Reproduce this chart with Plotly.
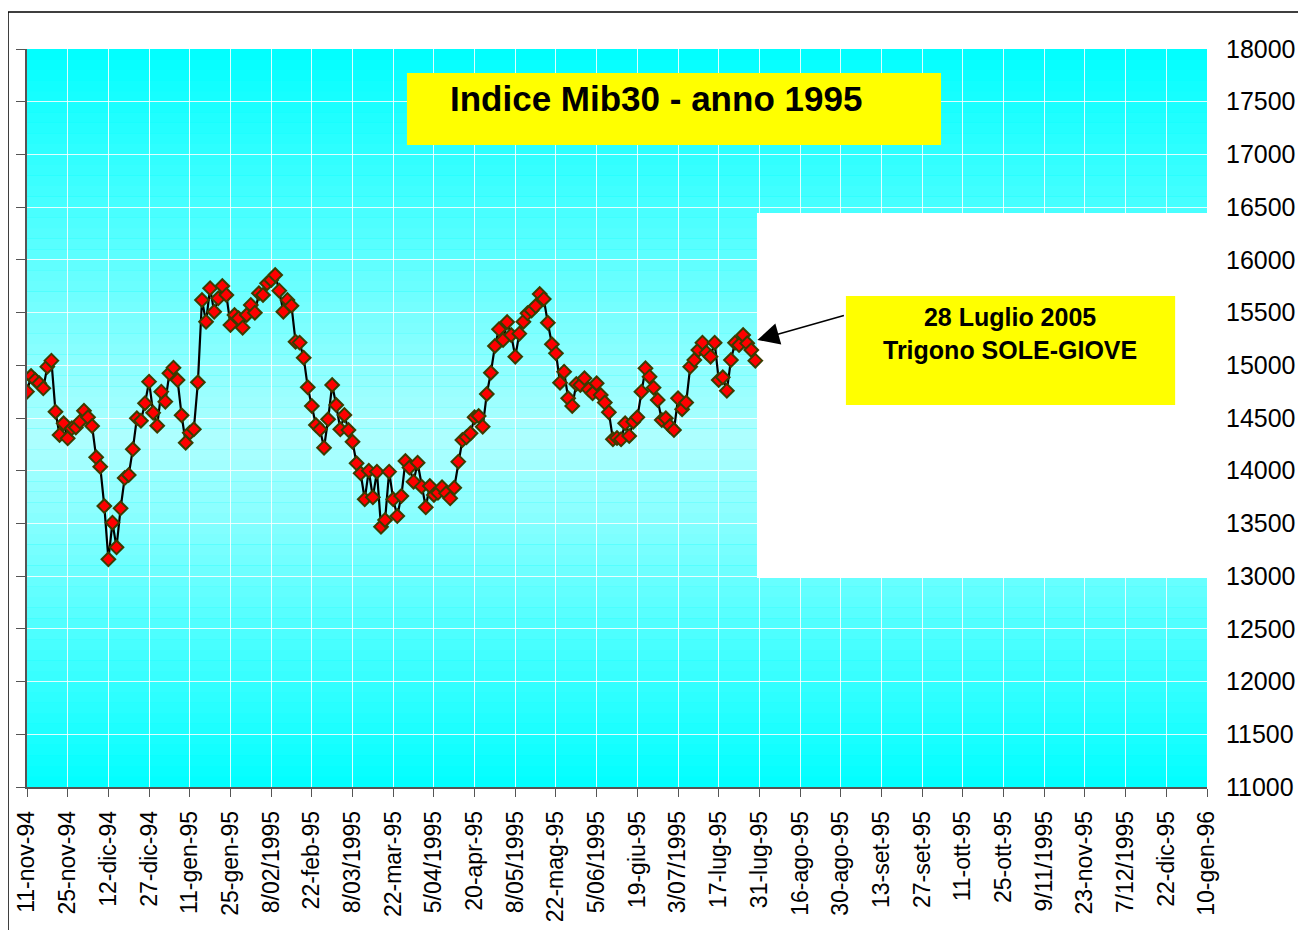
import plotly.graph_objects as go

# --- data -------------------------------------------------------------
tick_labels = ["11-nov-94", "25-nov-94", "12-dic-94", "27-dic-94", "11-gen-95", "25-gen-95",
               "8/02/1995", "22-feb-95", "8/03/1995", "22-mar-95", "5/04/1995", "20-apr-95",
               "8/05/1995", "22-mag-95", "5/06/1995", "19-giu-95", "3/07/1995", "17-lug-95",
               "31-lug-95", "16-ago-95", "30-ago-95", "13-set-95", "27-set-95", "11-ott-95",
               "25-ott-95", "9/11/1995", "23-nov-95", "7/12/1995", "22-dic-95", "10-gen-96"]
days_per_tick = 10

mib30 = [14750, 14898, 14860, 14829, 14782, 14987, 15044, 14560, 14339, 14450,
         14307, 14402, 14410, 14465, 14569, 14507, 14424, 14127, 14038, 13665,
         13160, 13507, 13274, 13643, 13930, 13960, 14203, 14497, 14474, 14640,
         14845, 14550, 14427, 14750, 14655, 14924, 14977, 14860, 14526, 14266,
         14361, 14393, 14839, 15619, 15413, 15730, 15508, 15635, 15752, 15667,
         15382, 15477, 15446, 15357, 15477, 15572, 15499, 15683, 15667, 15778,
         15809, 15856, 15708, 15508, 15620, 15565, 15224, 15215, 15072, 14791,
         14614, 14433, 14393, 14218, 14488, 14813, 14623, 14393, 14529, 14386,
         14275, 14070, 13975, 13729, 14000, 13748, 13991, 13469, 13533, 13991,
         13729, 13570, 13760, 14092, 14030, 13896, 14076, 13849, 13653, 13855,
         13770, 13790, 13843, 13786, 13738, 13839, 14086, 14291, 14317, 14355,
         14507, 14519, 14418, 14728, 14930, 15183, 15341, 15240, 15410, 15287,
         15082, 15300, 15413, 15493, 15520, 15562, 15676, 15629, 15404, 15199,
         15113, 14835, 14939, 14687, 14614, 14822, 14813, 14877, 14772, 14734,
         14829, 14718, 14646, 14554, 14298, 14310, 14298, 14450, 14330, 14465,
         14507, 14750, 14971, 14892, 14788, 14671, 14481, 14497, 14424, 14386,
         14687, 14583, 14646, 14987, 15050, 15145, 15214, 15120, 15082, 15214,
         14860, 14886, 14759, 15050, 15214, 15192, 15287, 15208, 15145, 15044]

y_ticks = list(range(11000, 18001, 500))
title_text = "Indice Mib30 - anno 1995"
note_text = "28 Luglio 2005<br>Trigono SOLE-GIOVE"

# --- derived ----------------------------------------------------------
x_idx = list(range(len(mib30)))
tick_vals = [i * days_per_tick for i in range(len(tick_labels))]
x_max = tick_vals[-1]
y_min, y_max = y_ticks[0], y_ticks[-1]

FONT = "Liberation Sans, Arial, sans-serif"

fig = go.Figure()
fig.add_trace(go.Scatter(
    x=x_idx, y=mib30, mode="lines+markers",
    line=dict(color="black", width=2.2),
    marker=dict(symbol="diamond", size=10.5, color="#FF0000",
                line=dict(color="#3C3C00", width=2)),
    hoverinfo="x+y", showlegend=False))
# invisible trace to carry the right-hand axis
fig.add_trace(go.Scatter(x=x_idx, y=mib30, yaxis="y2", mode="markers",
                         marker=dict(opacity=0), hoverinfo="skip", showlegend=False))

shapes = []
# vertical gradient background (cyan -> pale -> cyan)
peak = 14300
n_band = 70
step = (y_max - y_min) / n_band
for i in range(n_band):
    y0 = y_min + i * step
    yc = y0 + step / 2
    if yc >= peak:
        d = (yc - peak) / (y_max - peak)
    else:
        d = (peak - yc) / (peak - y_min)
    r = int(round(175 * (1 - d)))
    shapes.append(dict(type="rect", xref="paper", yref="y", x0=0, x1=1,
                       y0=y0, y1=y0 + step + 1, layer="below",
                       line=dict(width=0), fillcolor=f"rgb({r},255,255)"))
# white patch on the right part
shapes.append(dict(type="rect", xref="x", yref="y", x0=179.4, x1=x_max,
                   y0=12982, y1=16444, layer="between",
                   line=dict(width=0), fillcolor="white"))
# title box
shapes.append(dict(type="rect", xref="paper", yref="paper",
                   x0=0.322, x1=0.7746, y0=0.870, y1=0.9675, layer="above",
                   line=dict(width=0), fillcolor="#FFFF00"))
# note box
shapes.append(dict(type="rect", xref="paper", yref="paper",
                   x0=0.694, x1=0.973, y0=0.5176, y1=0.6653, layer="above",
                   line=dict(width=0), fillcolor="#FFFF00"))
# outer frame (left and top edges visible; others fall outside the page)
shapes.append(dict(type="rect", xref="paper", yref="paper",
                   x0=-0.0161, x1=1.5, y0=-0.5, y1=1.0501, layer="above",
                   line=dict(color="black", width=1.5), fillcolor="rgba(0,0,0,0)"))

annotations = [
    dict(text=f"<b>{title_text}</b>", xref="paper", yref="paper", x=0.533, y=0.933,
         xanchor="center", yanchor="middle", showarrow=False,
         font=dict(family=FONT, size=35, color="black")),
    dict(text=f"<b>{note_text}</b>", xref="paper", yref="paper", x=0.833, y=0.6148,
         xanchor="center", yanchor="middle", showarrow=False, align="center",
         font=dict(family=FONT, size=25, color="black")),
    dict(text="", xref="x", yref="y", x=179.5, y=15240, ax=88, ay=-25,
         showarrow=True, arrowhead=2, arrowsize=2.9, arrowwidth=1.5, arrowcolor="black"),
]

fig.update_layout(
    width=1298, height=922,
    margin=dict(l=19, r=99, t=41, b=143, autoexpand=False),
    paper_bgcolor="white", plot_bgcolor="#00FFFF",
    font=dict(family=FONT, color="black"),
    shapes=shapes, annotations=annotations,
    xaxis=dict(range=[0, x_max], tickvals=tick_vals, ticktext=tick_labels,
               tickangle=-90, tickfont=dict(size=23), automargin=False,
               ticklabelstandoff=5,
               showgrid=True, gridcolor="rgba(255,255,255,0.85)", gridwidth=1,
               showline=True, linecolor="#555555", linewidth=1.5,
               ticks="outside", ticklen=8, tickcolor="#555555", zeroline=False),
    yaxis=dict(range=[y_min, y_max], tickvals=y_ticks, showticklabels=False,
               automargin=False,
               showgrid=True, gridcolor="rgba(255,255,255,0.85)", gridwidth=1,
               showline=True, linecolor="#555555", linewidth=1.5,
               ticks="outside", ticklen=9, tickcolor="#555555", zeroline=False),
    yaxis2=dict(range=[y_min, y_max], tickvals=y_ticks,
                ticktext=[str(v) for v in y_ticks], overlaying="y", side="right",
                automargin=False,
                showgrid=False, showline=False, ticks="", zeroline=False,
                tickfont=dict(size=25), ticklabelstandoff=18),
)

fig.write_html("out.html")
